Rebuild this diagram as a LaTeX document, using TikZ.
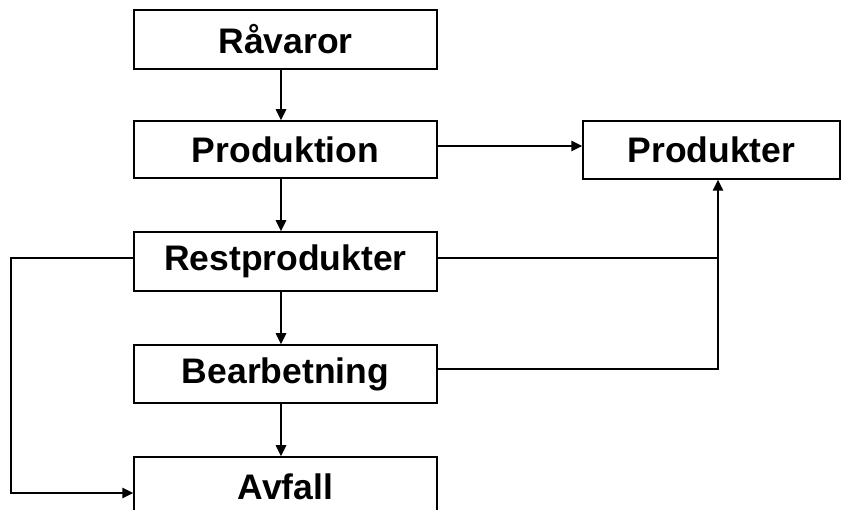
\documentclass[tikz,border=0pt]{standalone}
\usepackage{fontspec}
\setmainfont{Liberation Sans}
\usetikzlibrary{arrows.meta}
\begin{document}
\begin{tikzpicture}[x=1pt,y=-1pt,
  box/.style={draw,line width=1.5pt,rectangle,inner sep=0pt,font=\fontsize{35.5}{40}\selectfont\bfseries},
  conn/.style={line width=1.5pt},
  arr/.style={line width=1.5pt,-{Triangle[length=11pt,width=10.5pt]}}]
\clip (0,0) rectangle (841,510);
\useasboundingbox (0,0) rectangle (841,510);
\node[box,minimum width=303pt,minimum height=59pt] (rav) at (285.5,39.5) {Råvaror};
\node[box,minimum width=303pt,minimum height=57pt] (prod) at (285.5,149.5) {Produktion};
\node[box,minimum width=257pt,minimum height=58pt] (pt) at (711.5,150) {Produkter};
\node[box,minimum width=303pt,minimum height=59pt] (rest) at (285.5,261.5) {Restprodukter};
\node[box,minimum width=303pt,minimum height=58pt] (bear) at (285.5,374) {Bearbetning};
\node[box,minimum width=303pt,minimum height=60pt] (avf) at (285.5,487) {Avfall};
\coordinate (xa) at (281,0);
\coordinate (xr) at (718,0);
\coordinate (xl) at (11,0);
\coordinate (ya) at (0,146);
\coordinate (yr) at (0,258);
\coordinate (yb) at (0,369);
\coordinate (yf) at (0,493);
\draw[arr] (rav.south -| xa) -- (prod.north -| xa);
\draw[arr] (prod.south -| xa) -- (rest.north -| xa);
\draw[arr] (rest.south -| xa) -- (bear.north -| xa);
\draw[arr] (bear.south -| xa) -- (avf.north -| xa);
\draw[arr] (prod.east |- ya) -- (pt.west |- ya);
\draw[conn] (rest.east |- yr) -- (xr |- yr);
\draw[arr] (bear.east |- yb) -- (xr |- yb) -- (pt.south -| xr);
\draw[arr] (rest.west |- yr) -- (xl |- yr) -- (xl |- yf) -- (avf.west |- yf);
\end{tikzpicture}
\end{document}
